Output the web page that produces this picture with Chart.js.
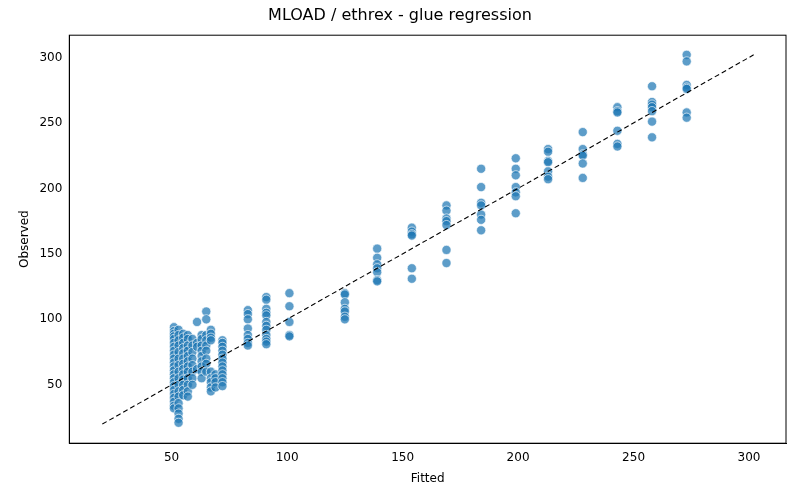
<!DOCTYPE html>
<html>
<head>
<meta charset="UTF-8">
<script src="https://cdn.jsdelivr.net/npm/chart.js"></script>
<style>
  body { margin: 0; background: #fff; }
  #wrap { width: 800px; height: 500px; }
</style>
</head>
<body>
<div id="wrap"><canvas id="c"></canvas></div>
<script>
// fitted value of each column and the observed values at that fitted value
const fittedLevels = [51, 53, 55, 57, 59, 61, 63, 65, 67, 69, 72, 83, 91, 101, 125, 139, 154, 169, 184, 199, 213, 228, 243, 258, 273];
const observedByLevel = [
  [94, 91, 89, 87, 85, 82, 79, 76, 73, 70, 67, 64, 61, 58, 55, 52, 49, 46, 43, 40, 37, 34, 32],
  [92, 88, 84, 80, 75, 70, 65, 60, 55, 50, 45, 41, 36, 32, 28, 24, 21],
  [89, 86, 82, 78, 74, 70, 66, 62, 58, 54, 50, 46, 42],
  [88, 85, 80, 76, 72, 68, 64, 60, 55, 50, 45, 41],
  [85, 80, 75, 70, 65, 60, 55, 50],
  [98, 82, 79, 62],
  [88, 85, 80, 76, 72, 68, 64, 60, 55],
  [106, 100, 88, 84, 80, 76, 70, 66, 60],
  [92, 89, 86, 84, 60, 55, 52, 48, 45],
  [58, 55, 52, 48],
  [84, 82, 79, 76, 73, 70, 67, 64, 61, 58, 55, 52, 49],
  [107, 104, 100, 93, 88, 85, 82, 80],
  [117, 115, 108, 105, 103, 98, 95, 92, 88, 85, 83, 81],
  [120, 110, 98, 88, 87],
  [120, 119, 113, 108, 106, 102, 100],
  [154, 147, 142, 139, 136, 130, 129],
  [170, 167, 165, 164, 139, 131],
  [187, 183, 177, 175, 172, 153, 143],
  [215, 201, 189, 187, 180, 176, 168],
  [223, 215, 210, 201, 197, 194, 181],
  [230, 228, 221, 220, 213, 209, 207],
  [243, 230, 226, 225, 219, 208],
  [262, 259, 258, 244, 234, 232],
  [278, 266, 264, 262, 259, 251, 239],
  [302, 297, 279, 277, 276, 258, 254]
];
const identityLine = [20, 302];
const tickValues = [50, 100, 150, 200, 250, 300];

const points = [];
fittedLevels.forEach((fx, i) => {
  observedByLevel[i].forEach(v => points.push({ x: fx, y: v }));
});

const keepTicks = axis => { axis.ticks = tickValues.map(v => ({ value: v })); };

new Chart(document.getElementById('c'), {
  type: 'scatter',
  data: {
    datasets: [
      {
        data: points,
        backgroundColor: 'rgba(31,119,180,0.72)',
        borderColor: 'rgba(255,255,255,0.8)',
        borderWidth: 0.8,
        pointRadius: 4.6,
        order: 2
      },
      {
        type: 'line',
        data: identityLine.map(v => ({ x: v, y: v })),
        borderColor: '#000',
        borderWidth: 1.1,
        borderDash: [5, 3],
        pointRadius: 0,
        order: 1
      }
    ]
  },
  options: {
    responsive: true,
    maintainAspectRatio: false,
    animation: false,
    layout: { padding: { left: 14, right: 14, top: 2, bottom: 10 } },
    plugins: {
      legend: { display: false },
      tooltip: { enabled: false },
      title: { display: true, text: 'MLOAD / ethrex - glue regression', color: '#000',
               font: { family: 'DejaVu Sans', size: 16, weight: 'normal' }, padding: { top: 4, bottom: 10 } }
    },
    scales: {
      x: {
        type: 'linear', min: 5.7, max: 316,
        afterBuildTicks: keepTicks,
        grid: { display: false, drawTicks: true, tickLength: 4 },
        border: { color: '#000' },
        ticks: { color: '#000', font: { family: 'DejaVu Sans', size: 12 } },
        title: { display: true, text: 'Fitted', color: '#000', font: { family: 'DejaVu Sans', size: 12 } }
      },
      y: {
        min: 5.4, max: 317,
        afterBuildTicks: keepTicks,
        grid: { display: false, tickLength: 4 },
        border: { color: '#000' },
        ticks: { color: '#000', font: { family: 'DejaVu Sans', size: 12 } },
        title: { display: true, text: 'Observed', color: '#000', font: { family: 'DejaVu Sans', size: 12 } }
      }
    }
  },
  plugins: [{
    id: 'frame',
    afterDraw(chart) {
      const { ctx, chartArea: a } = chart;
      ctx.save();
      ctx.strokeStyle = '#000';
      ctx.lineWidth = 1;
      ctx.strokeRect(a.left, a.top, a.right - a.left, a.bottom - a.top);
      ctx.restore();
    }
  }]
});
</script>
</body>
</html>
